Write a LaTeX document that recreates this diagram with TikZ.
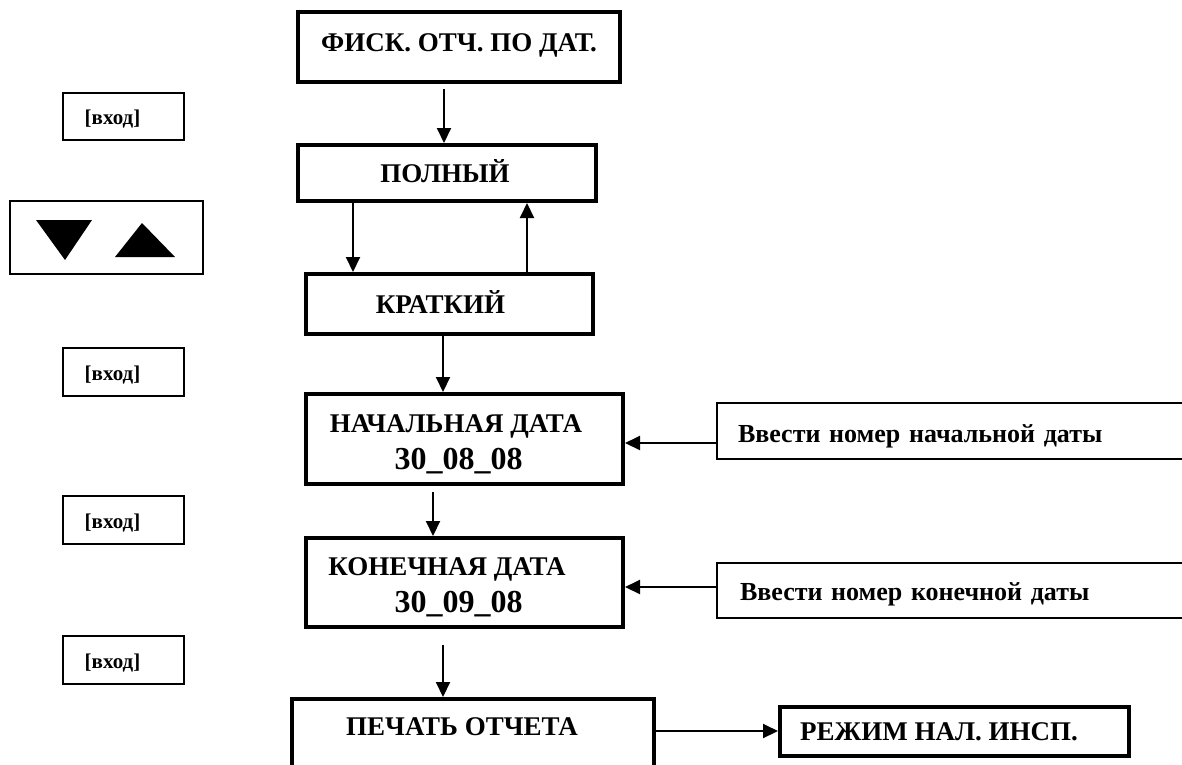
\documentclass[tikz,border=0pt]{standalone}
\usepackage{fontspec}
\setmainfont{Liberation Serif}
\usetikzlibrary{arrows.meta}
\newcommand{\shiftup}[2]{\raisebox{#1}[\height][\depth]{#2}}
\begin{document}
\begin{tikzpicture}[x=1pt,y=-1pt,
  thickbox/.style={draw,line width=4pt,inner sep=0pt,font=\fontsize{27}{37}\selectfont\bfseries,align=center},
  thinbox/.style={draw,line width=2pt,inner sep=0pt},
  keybox/.style={thinbox,minimum width=121pt,minimum height=47pt,font=\fontsize{21}{24}\selectfont\bfseries},
  hintbox/.style={thinbox,minimum height=56pt,text width=452pt,inner xsep=21pt,align=left,font=\fontsize{26}{30}\selectfont\bfseries},
  arr/.style={line width=2pt,-{Triangle[width=14pt,length=15pt]}}]
\useasboundingbox (0,0) rectangle (1182,764);
\clip (0,0) rectangle (1182,764);
\fill[white] (0,0) rectangle (1182,764);

% main chain
\node[thickbox,minimum width=322pt,minimum height=70pt] (fisk) at (459,47) {\shiftup{2pt}{ФИСК. ОТЧ. ПО ДАТ.}};
\node[thickbox,minimum width=298pt,minimum height=56pt] (poln) at (447,173) {\shiftup{2pt}{ПОЛНЫЙ}\hspace*{4pt}};
\node[thickbox,minimum width=287pt,minimum height=60pt] (krat) at (449.5,304) {\shiftup{2pt}{КРАТКИЙ}\hspace*{18pt}};
\node[thickbox,minimum width=317pt,minimum height=90pt] (nach) at (464.5,439)
  {\rule{0pt}{28pt}НАЧАЛЬНАЯ ДАТА\hspace*{17pt}\\{\fontsize{32}{37}\selectfont 30\_08\_08}\hspace*{12pt}};
\node[thickbox,minimum width=317pt,minimum height=89pt] (kon) at (464.5,582.5)
  {\rule{0pt}{28pt}КОНЕЧНАЯ ДАТА\hspace*{35pt}\\{\fontsize{32}{37}\selectfont 30\_09\_08}\hspace*{12pt}};
\node[thickbox,minimum width=362pt,minimum height=101pt] (print) at (473,749.5)
  {\shiftup{22.5pt}{ПЕЧАТЬ ОТЧЕТА}\hspace*{22pt}};
\node[thickbox,minimum width=349pt,minimum height=49pt] (rezh) at (954.5,731.5)
  {РЕЖИМ НАЛ. ИНСП.\hspace*{31pt}};

% hint boxes (open to the right)
\node[hintbox,minimum width=494pt] (hint1) at (964,431) {\shiftup{-5pt}{Ввести номер начальной даты}};
\node[hintbox,minimum width=494pt,minimum height=55pt] (hint2) at (964,590.5) {\hspace*{2pt}\shiftup{-4pt}{Ввести номер конечной даты}};

% key boxes
\node[keybox] (key1) at (123.5,116.5) {\shiftup{-3pt}{[вход]}\hspace*{22pt}};
\node[thinbox,minimum width=193pt,minimum height=73pt] (arrows) at (106.5,237.5) {};
\fill (36,220) -- (92,220) -- (65,260) -- cycle;
\fill (115,257) -- (175,257) -- (142,223) -- cycle;
\node[keybox,minimum height=48pt] (key2) at (123.5,372) {\shiftup{-3pt}{[вход]}\hspace*{22pt}};
\node[keybox,minimum height=48pt] (key3) at (123.5,520) {\shiftup{-3pt}{[вход]}\hspace*{22pt}};
\node[keybox,minimum height=48pt] (key4) at (123.5,660) {\shiftup{-3pt}{[вход]}\hspace*{22pt}};

% connectors
\draw[arr] ([xshift=-15pt,yshift=-5pt]fisk.south) -- ([xshift=-15pt]fisk.south |- poln.north);
\draw[arr] ([xshift=-94pt]poln.south) -- ([xshift=-94pt]poln.south |- krat.north);
\draw[arr] ([xshift=77.5pt]krat.north) -- ([xshift=77.5pt]krat.north |- poln.south);
\draw[arr] ([xshift=-6.5pt]krat.south) -- ([xshift=-6.5pt]krat.south |- nach.north);
\draw[arr] ([xshift=-31.5pt,yshift=-6pt]nach.south) -- ([xshift=-31.5pt]nach.south |- kon.north);
\draw[arr] ([xshift=-21.5pt,yshift=-16pt]kon.south) -- ([xshift=-21.5pt]kon.south |- print.north);
\draw[arr] ([yshift=18.5pt]print.east) -- ([yshift=18.5pt]print.east -| rezh.west);
\draw[arr] ([yshift=-12pt]hint1.west) -- ([yshift=-12pt]hint1.west -| nach.east);
\draw[arr] ([yshift=3.5pt]hint2.west) -- ([yshift=3.5pt]hint2.west -| kon.east);
\end{tikzpicture}
\end{document}
